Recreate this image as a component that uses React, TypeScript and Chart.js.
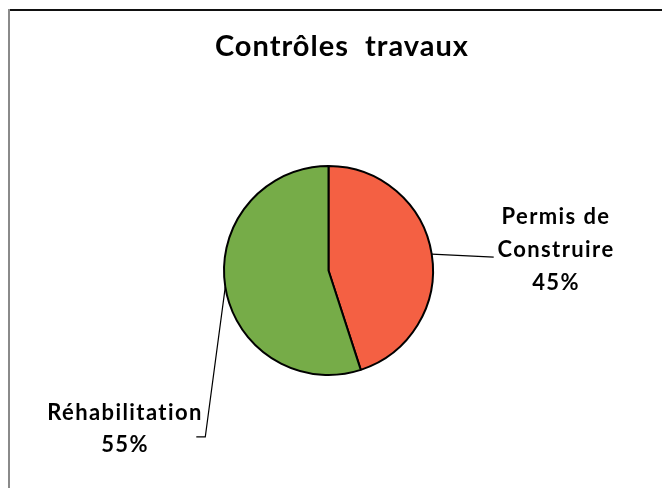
import React, { useEffect, useRef } from "react";
import { Chart, registerables } from "chart.js";

Chart.register(...registerables);

const TITLE = "Contrôles  travaux";
const categories = ["Permis de Construire", "Réhabilitation"];
const labelLines = [["Permis de", "Construire", "45%"], ["Réhabilitation", "55%"]];
const values = [45, 55];
const colors = ["#F46043", "#76AC48"];

const framePlugin = {
  id: "frame",
  beforeDraw(chart: any) {
    const ctx = chart.ctx;
    ctx.save();
    ctx.fillStyle = "#ffffff";
    ctx.fillRect(0, 0, chart.width, chart.height);
    ctx.fillStyle = "#111111";
    ctx.fillRect(8, 9, chart.width - 8, 2);
    ctx.fillStyle = "#8a8a8a";
    ctx.fillRect(8, 9, 2, chart.height - 9);
    ctx.restore();
  },
  afterDraw(chart: any) {
    const ctx = chart.ctx;
    ctx.save();
    ctx.fillStyle = "#000";
    ctx.textAlign = "center";
    ctx.textBaseline = "middle";
    ctx.font = "bold 29px Lato";
    (ctx as any).letterSpacing = "1px";
    ctx.fillText(TITLE, 342, 47);

    const meta = chart.getDatasetMeta(0);
    const leaders = [
      { pts: [[62, 3]], tx: 556, ty: 217, lh: 33 },
      { pts: [[-20, 150], [-29, 150]], tx: 125, ty: 413, lh: 32 },
    ];
    meta.data.forEach((arc: any, i: number) => {
      const mid = (arc.startAngle + arc.endAngle) / 2;
      const ex = arc.x + Math.cos(mid) * arc.outerRadius;
      const ey = arc.y + Math.sin(mid) * arc.outerRadius;
      ctx.strokeStyle = "#000";
      ctx.lineWidth = 1.2;
      ctx.beginPath();
      ctx.moveTo(ex, ey);
      leaders[i].pts.forEach((p) => ctx.lineTo(ex + p[0], ey + p[1]));
      ctx.stroke();
      ctx.font = "bold 22px Lato";
      (ctx as any).letterSpacing = "1.4px";
      labelLines[i].forEach((t, k) => {
        ctx.fillText(t, leaders[i].tx, leaders[i].ty + k * leaders[i].lh);
      });
    });
    ctx.restore();
  },
};

export default function App() {
  const ref = useRef<HTMLCanvasElement>(null);
  useEffect(() => {
    if (!ref.current) return;
    const chart = new Chart(ref.current, {
      type: "pie",
      data: {
        labels: categories,
        datasets: [
          {
            data: values,
            backgroundColor: colors,
            borderColor: "#000",
            borderWidth: 2,
          },
        ],
      },
      options: {
        responsive: false,
        animation: false,
        layout: { padding: { left: 223, right: 228, top: 165, bottom: 112 } },
        plugins: {
          legend: { display: false },
          tooltip: { enabled: false },
          title: { display: false },
        },
      },
      plugins: [framePlugin],
    });
    return () => chart.destroy();
  }, []);
  return (
    <div style={{ position: "absolute", left: 0, top: 0 }}>
      <canvas ref={ref} width={662} height={488} style={{ display: "block" }} />
    </div>
  );
}
